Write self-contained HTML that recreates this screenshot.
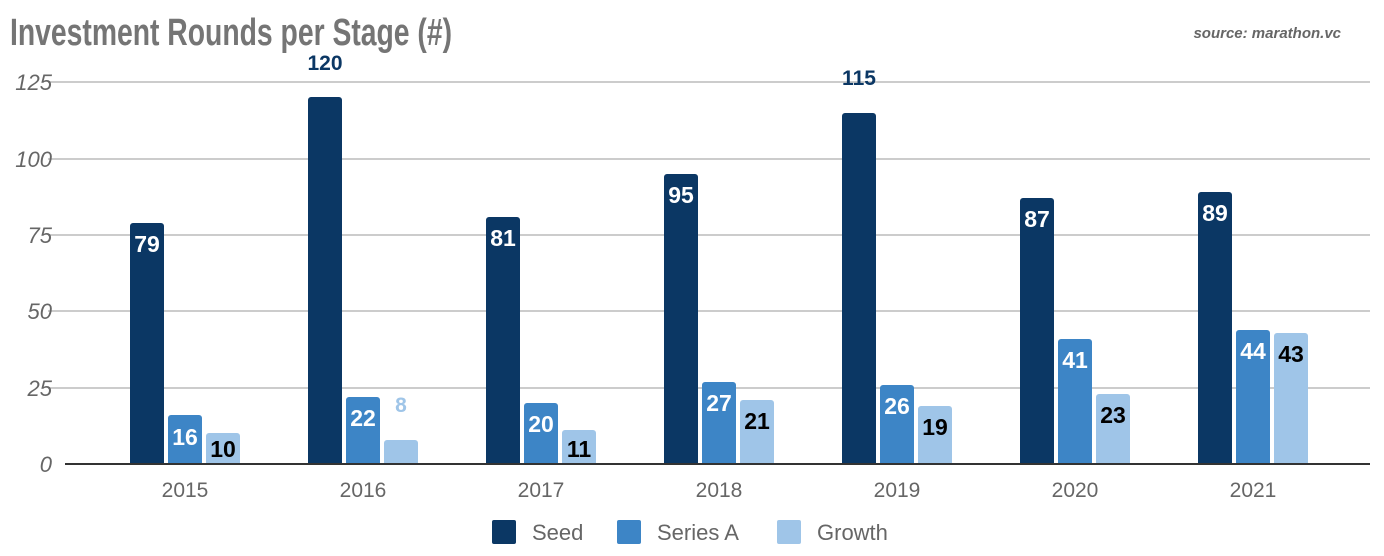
<!DOCTYPE html>
<html><head><meta charset="utf-8"><style>
html,body{margin:0;padding:0;background:#fff;}
svg{display:block;}
</style></head><body>
<svg width="1384" height="556" viewBox="0 0 1384 556" xmlns="http://www.w3.org/2000/svg" font-family="'Liberation Sans', sans-serif">
<text x="10" y="45" font-size="38" font-weight="bold" fill="#757575" font-family="'Liberation Sans',sans-serif" textLength="442" lengthAdjust="spacingAndGlyphs">Investment Rounds per Stage (#)</text>
<text x="1341" y="38" font-size="15" font-weight="bold" font-style="italic" fill="#666" text-anchor="end">source: marathon.vc</text>
<g stroke="#cccccc" stroke-width="2">
<line x1="48" y1="82" x2="1370" y2="82"/>
<line x1="48" y1="159" x2="1370" y2="159"/>
<line x1="48" y1="235" x2="1370" y2="235"/>
<line x1="48" y1="311" x2="1370" y2="311"/>
<line x1="48" y1="388" x2="1370" y2="388"/>
</g>
<g font-size="22" font-style="italic" fill="#666" text-anchor="end">
<text x="52" y="90">125</text>
<text x="52" y="167">100</text>
<text x="52" y="243">75</text>
<text x="52" y="319">50</text>
<text x="52" y="396">25</text>
<text x="52" y="472">0</text>
</g>
<g id="bars">
<path d="M130,464V226a3,3 0 0 1 3,-3h28a3,3 0 0 1 3,3V464z" fill="#0b3764"/>
<path d="M168,464V418a3,3 0 0 1 3,-3h28a3,3 0 0 1 3,3V464z" fill="#3d85c6"/>
<path d="M206,464V436a3,3 0 0 1 3,-3h28a3,3 0 0 1 3,3V464z" fill="#9fc5e8"/>
<path d="M308,464V100a3,3 0 0 1 3,-3h28a3,3 0 0 1 3,3V464z" fill="#0b3764"/>
<path d="M346,464V400a3,3 0 0 1 3,-3h28a3,3 0 0 1 3,3V464z" fill="#3d85c6"/>
<path d="M384,464V443a3,3 0 0 1 3,-3h28a3,3 0 0 1 3,3V464z" fill="#9fc5e8"/>
<path d="M486,464V220a3,3 0 0 1 3,-3h28a3,3 0 0 1 3,3V464z" fill="#0b3764"/>
<path d="M524,464V406a3,3 0 0 1 3,-3h28a3,3 0 0 1 3,3V464z" fill="#3d85c6"/>
<path d="M562,464V433a3,3 0 0 1 3,-3h28a3,3 0 0 1 3,3V464z" fill="#9fc5e8"/>
<path d="M664,464V177a3,3 0 0 1 3,-3h28a3,3 0 0 1 3,3V464z" fill="#0b3764"/>
<path d="M702,464V385a3,3 0 0 1 3,-3h28a3,3 0 0 1 3,3V464z" fill="#3d85c6"/>
<path d="M740,464V403a3,3 0 0 1 3,-3h28a3,3 0 0 1 3,3V464z" fill="#9fc5e8"/>
<path d="M842,464V116a3,3 0 0 1 3,-3h28a3,3 0 0 1 3,3V464z" fill="#0b3764"/>
<path d="M880,464V388a3,3 0 0 1 3,-3h28a3,3 0 0 1 3,3V464z" fill="#3d85c6"/>
<path d="M918,464V409a3,3 0 0 1 3,-3h28a3,3 0 0 1 3,3V464z" fill="#9fc5e8"/>
<path d="M1020,464V201a3,3 0 0 1 3,-3h28a3,3 0 0 1 3,3V464z" fill="#0b3764"/>
<path d="M1058,464V342a3,3 0 0 1 3,-3h28a3,3 0 0 1 3,3V464z" fill="#3d85c6"/>
<path d="M1096,464V397a3,3 0 0 1 3,-3h28a3,3 0 0 1 3,3V464z" fill="#9fc5e8"/>
<path d="M1198,464V195a3,3 0 0 1 3,-3h28a3,3 0 0 1 3,3V464z" fill="#0b3764"/>
<path d="M1236,464V333a3,3 0 0 1 3,-3h28a3,3 0 0 1 3,3V464z" fill="#3d85c6"/>
<path d="M1274,464V336a3,3 0 0 1 3,-3h28a3,3 0 0 1 3,3V464z" fill="#9fc5e8"/>
</g>
<line x1="65" y1="464" x2="1370" y2="464" stroke="#333" stroke-width="2"/>
<g font-size="23" font-weight="bold" text-anchor="middle">
<text x="147" y="252" fill="#fff">79</text>
<text x="185" y="445" fill="#fff">16</text>
<text x="223" y="457" fill="#000">10</text>
<text x="325" y="70" fill="#0b3764" font-size="21">120</text>
<text x="363" y="426" fill="#fff">22</text>
<text x="401" y="412" fill="#9fc5e8" font-size="21">8</text>
<text x="503" y="246" fill="#fff">81</text>
<text x="541" y="432" fill="#fff">20</text>
<text x="579" y="457" fill="#000">11</text>
<text x="681" y="203" fill="#fff">95</text>
<text x="719" y="411" fill="#fff">27</text>
<text x="757" y="429" fill="#000">21</text>
<text x="859" y="85" fill="#0b3764" font-size="21">115</text>
<text x="897" y="414" fill="#fff">26</text>
<text x="935" y="435" fill="#000">19</text>
<text x="1037" y="227" fill="#fff">87</text>
<text x="1075" y="368" fill="#fff">41</text>
<text x="1113" y="423" fill="#000">23</text>
<text x="1215" y="221" fill="#fff">89</text>
<text x="1253" y="359" fill="#fff">44</text>
<text x="1291" y="362" fill="#000">43</text>
</g>
<g font-size="21" fill="#666" text-anchor="middle">
<text x="185" y="497">2015</text>
<text x="363" y="497">2016</text>
<text x="541" y="497">2017</text>
<text x="719" y="497">2018</text>
<text x="897" y="497">2019</text>
<text x="1075" y="497">2020</text>
<text x="1253" y="497">2021</text>
</g>
<rect x="492" y="520" width="24" height="24" rx="2" fill="#0b3764"/>
<text x="532" y="540" font-size="22" fill="#666">Seed</text>
<rect x="617" y="520" width="24" height="24" rx="2" fill="#3d85c6"/>
<text x="657" y="540" font-size="22" fill="#666">Series A</text>
<rect x="777" y="520" width="24" height="24" rx="2" fill="#9fc5e8"/>
<text x="817" y="540" font-size="22" fill="#666">Growth</text>
</svg>
</body></html>
